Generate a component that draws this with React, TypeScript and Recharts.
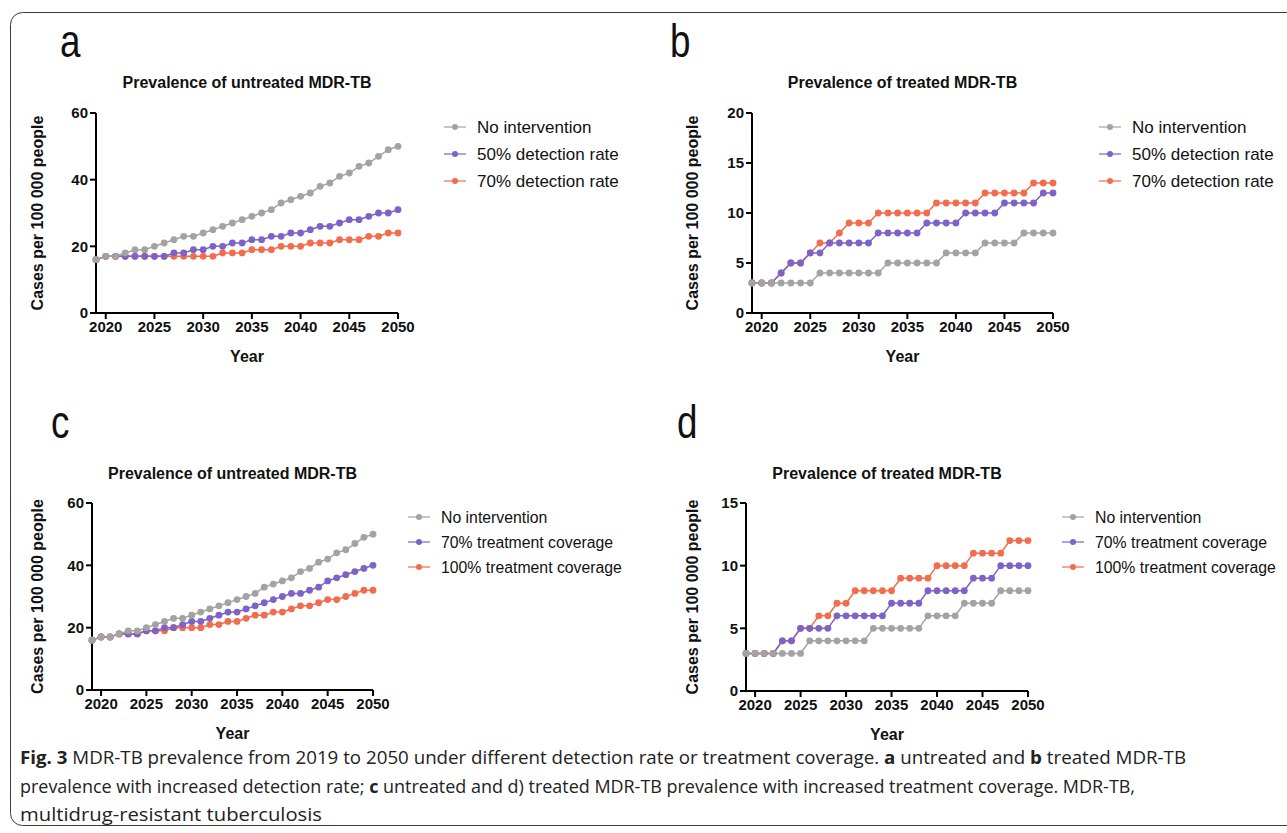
import { Line, LineChart, XAxis, YAxis } from "recharts";

// years 2019..2050
const YEARS = [
  2019, 2020, 2021, 2022, 2023, 2024, 2025, 2026, 2027, 2028, 2029, 2030, 2031,
  2032, 2033, 2034, 2035, 2036, 2037, 2038, 2039, 2040, 2041, 2042, 2043, 2044,
  2045, 2046, 2047, 2048, 2049, 2050,
];
const X_TICKS = [2020, 2025, 2030, 2035, 2040, 2045, 2050];

// a) untreated, detection rate
const A_NONE = [16, 17, 17, 18, 19, 19, 20, 21, 22, 23, 23, 24, 25, 26, 27, 28, 29, 30, 31, 33, 34, 35, 36, 38, 39, 41, 42, 44, 45, 47, 49, 50];
const A_DET50 = [16, 17, 17, 17, 17, 17, 17, 17, 18, 18, 19, 19, 20, 20, 21, 21, 22, 22, 23, 23, 24, 24, 25, 26, 26, 27, 28, 28, 29, 30, 30, 31];
const A_DET70 = [16, 17, 17, 17, 17, 17, 17, 17, 17, 17, 17, 17, 17, 18, 18, 18, 19, 19, 19, 20, 20, 20, 21, 21, 21, 22, 22, 22, 23, 23, 24, 24];

// b) treated, detection rate
const B_NONE = [3, 3, 3, 3, 3, 3, 3, 4, 4, 4, 4, 4, 4, 4, 5, 5, 5, 5, 5, 5, 6, 6, 6, 6, 7, 7, 7, 7, 8, 8, 8, 8];
const B_DET50 = [3, 3, 3, 4, 5, 5, 6, 6, 7, 7, 7, 7, 7, 8, 8, 8, 8, 8, 9, 9, 9, 9, 10, 10, 10, 10, 11, 11, 11, 11, 12, 12];
const B_DET70 = [3, 3, 3, 4, 5, 5, 6, 7, 7, 8, 9, 9, 9, 10, 10, 10, 10, 10, 10, 11, 11, 11, 11, 11, 12, 12, 12, 12, 12, 13, 13, 13];

// c) untreated, treatment coverage
const C_NONE = [16, 17, 17, 18, 19, 19, 20, 21, 22, 23, 23, 24, 25, 26, 27, 28, 29, 30, 31, 33, 34, 35, 36, 38, 39, 41, 42, 44, 45, 47, 49, 50];
const C_TR70 = [16, 17, 17, 18, 18, 18, 19, 19, 20, 20, 21, 22, 22, 23, 24, 25, 25, 26, 27, 28, 29, 30, 31, 31, 32, 33, 35, 36, 37, 38, 39, 40];
const C_TR100 = [16, 17, 17, 18, 18, 18, 19, 19, 19, 20, 20, 20, 20, 21, 21, 22, 22, 23, 24, 24, 25, 25, 26, 27, 27, 28, 29, 29, 30, 31, 32, 32];

// d) treated, treatment coverage
const D_NONE = [3, 3, 3, 3, 3, 3, 3, 4, 4, 4, 4, 4, 4, 4, 5, 5, 5, 5, 5, 5, 6, 6, 6, 6, 7, 7, 7, 7, 8, 8, 8, 8];
const D_TR70 = [3, 3, 3, 3, 4, 4, 5, 5, 5, 5, 6, 6, 6, 6, 6, 6, 7, 7, 7, 7, 8, 8, 8, 8, 8, 9, 9, 9, 10, 10, 10, 10];
const D_TR100 = [3, 3, 3, 3, 4, 4, 5, 5, 6, 6, 7, 7, 8, 8, 8, 8, 8, 9, 9, 9, 9, 10, 10, 10, 10, 11, 11, 11, 11, 12, 12, 12];

const Y_TICKS_60 = [0, 20, 40, 60];
const Y_TICKS_20 = [0, 5, 10, 15, 20];
const Y_TICKS_15 = [0, 5, 10, 15];

const GRAY = "#a3a3a3";
const PURPLE = "#7d62c8";
const ORANGE = "#f36c4e";
const FONT = "'Liberation Sans', Arial, sans-serif";

const Y_W = 90;
const M_TOP = 12;
const M_RIGHT = 20;
const X_H = 60;

type Series = { name: string; color: string; values: number[] };
type PanelSpec = {
  letter: string;
  letterX: number;
  letterY: number;
  title: string;
  titleY: number;
  plotLeft: number;
  plotTop: number;
  plotW: number;
  plotH: number;
  yMax: number;
  yTicks: number[];
  labelX: number;
  legendX: number;
  legendY: number;
  legendGap: number;
  legendFont: number;
  series: Series[];
};

const PANELS: PanelSpec[] = [
  {
    letter: "a", letterX: 60, letterY: 57,
    title: "Prevalence of untreated MDR-TB", titleY: 88,
    plotLeft: 96, plotTop: 113, plotW: 302, plotH: 200,
    yMax: 60, yTicks: Y_TICKS_60, labelX: 37,
    legendX: 444, legendY: 127, legendGap: 27, legendFont: 17,
    series: [
      { name: "No intervention", color: GRAY, values: A_NONE },
      { name: "50% detection rate", color: PURPLE, values: A_DET50 },
      { name: "70% detection rate", color: ORANGE, values: A_DET70 },
    ],
  },
  {
    letter: "b", letterX: 670, letterY: 57,
    title: "Prevalence of treated MDR-TB", titleY: 88,
    plotLeft: 752, plotTop: 113, plotW: 301, plotH: 200,
    yMax: 20, yTicks: Y_TICKS_20, labelX: 692,
    legendX: 1099, legendY: 127, legendGap: 27, legendFont: 17,
    series: [
      { name: "No intervention", color: GRAY, values: B_NONE },
      { name: "50% detection rate", color: PURPLE, values: B_DET50 },
      { name: "70% detection rate", color: ORANGE, values: B_DET70 },
    ],
  },
  {
    letter: "c", letterX: 51, letterY: 438,
    title: "Prevalence of untreated MDR-TB", titleY: 479,
    plotLeft: 92, plotTop: 503, plotW: 281, plotH: 187,
    yMax: 60, yTicks: Y_TICKS_60, labelX: 37,
    legendX: 408, legendY: 517, legendGap: 25, legendFont: 15.8,
    series: [
      { name: "No intervention", color: GRAY, values: C_NONE },
      { name: "70% treatment coverage", color: PURPLE, values: C_TR70 },
      { name: "100% treatment coverage", color: ORANGE, values: C_TR100 },
    ],
  },
  {
    letter: "d", letterX: 677, letterY: 438,
    title: "Prevalence of treated MDR-TB", titleY: 479,
    plotLeft: 746, plotTop: 503, plotW: 282, plotH: 188,
    yMax: 15, yTicks: Y_TICKS_15, labelX: 692,
    legendX: 1062, legendY: 517, legendGap: 25, legendFont: 15.8,
    series: [
      { name: "No intervention", color: GRAY, values: D_NONE },
      { name: "70% treatment coverage", color: PURPLE, values: D_TR70 },
      { name: "100% treatment coverage", color: ORANGE, values: D_TR100 },
    ],
  },
];

const tickStyle = { fill: "#111", fontSize: 15, fontWeight: 700 };
const axisStroke = { stroke: "#000", strokeWidth: 2 };

function Panel({ p }: { p: PanelSpec }) {
  const left = p.plotLeft - Y_W;
  const top = p.plotTop - M_TOP;
  const width = Y_W + p.plotW + M_RIGHT;
  const height = M_TOP + p.plotH + X_H;
  const data = YEARS.map((year, i) => {
    const row: Record<string, number> = { year };
    p.series.forEach((s, k) => (row["s" + k] = s.values[i]));
    return row;
  });
  // gray on top, orange at the bottom
  const order = p.series.map((s, k) => ({ ...s, k })).reverse();

  return (
    <div style={{ position: "absolute", left, top, width, height }}>
      <LineChart
        width={width}
        height={height}
        data={data}
        margin={{ top: M_TOP, right: M_RIGHT, bottom: 0, left: 0 }}
      >
        <XAxis
          dataKey="year"
          type="number"
          domain={[2019, 2050]}
          ticks={X_TICKS}
          interval={0}
          height={X_H}
          axisLine={axisStroke}
          tickLine={axisStroke}
          tickSize={6}
          tick={tickStyle}
          label={{
            value: "Year",
            position: "insideBottom",
            offset: 11,
            style: { fill: "#111", fontSize: 16, fontWeight: 700 },
          }}
        />
        <YAxis
          type="number"
          domain={[0, p.yMax]}
          ticks={p.yTicks}
          interval={0}
          width={Y_W}
          axisLine={axisStroke}
          tickLine={axisStroke}
          tickSize={6}
          tick={tickStyle}
          label={{
            value: "Cases per 100 000 people",
            angle: -90,
            position: "insideLeft",
            offset: p.labelX - left,
            style: { fill: "#111", fontSize: 16, fontWeight: 700, textAnchor: "middle" },
          }}
        />
        {order.map((s) => (
          <Line
            key={s.k}
            type="linear"
            dataKey={"s" + s.k}
            name={s.name}
            stroke={s.color}
            strokeWidth={1.5}
            dot={{ r: 3.4, fill: s.color, stroke: s.color, strokeWidth: 0 }}
            activeDot={false}
            isAnimationActive={false}
          />
        ))}
      </LineChart>
    </div>
  );
}

function Legend({ p }: { p: PanelSpec }) {
  return (
    <g>
      {p.series.map((s, i) => {
        const y = p.legendY + i * p.legendGap;
        return (
          <g key={s.name}>
            <line x1={p.legendX} x2={p.legendX + 22} y1={y} y2={y} stroke={s.color} strokeWidth={1.5} opacity={0.8} />
            <circle cx={p.legendX + 11} cy={y} r={3} fill={s.color} />
            <text x={p.legendX + 33} y={y + p.legendFont * 0.35} fontSize={p.legendFont} fill="#111">
              {s.name}
            </text>
          </g>
        );
      })}
    </g>
  );
}

export default function App() {
  return (
    <div
      style={{
        position: "absolute",
        left: 0,
        top: 0,
        width: 1287,
        height: 833,
        background: "#fff",
        overflow: "hidden",
        fontFamily: FONT,
      }}
    >
      {PANELS.map((p) => (
        <Panel key={p.letter} p={p} />
      ))}
      <svg
        width={1287}
        height={833}
        style={{ position: "absolute", left: 0, top: 0, pointerEvents: "none", fontFamily: FONT }}
      >
        <rect x={10.5} y={12.5} width={1320} height={813} rx={12} fill="none" stroke="#3c3c3c" strokeWidth={1} />
        {PANELS.map((p) => (
          <g key={p.letter}>
            <text
              transform={`translate(${p.letterX} ${p.letterY}) scale(0.8 1)`}
              fontSize={46}
              fill="#111"
            >
              {p.letter}
            </text>
            <text
              x={p.plotLeft + p.plotW / 2}
              y={p.titleY}
              fontSize={16}
              fontWeight={700}
              fill="#111"
              textAnchor="middle"
            >
              {p.title}
            </text>
            <Legend p={p} />
          </g>
        ))}
        <g fontFamily="'Open Sans', sans-serif" fontSize={18} fill="#222">
          <text x={20} y={764} textLength={1166} lengthAdjust="spacingAndGlyphs">
            <tspan fontWeight={700}>Fig. 3</tspan> MDR-TB prevalence from 2019 to 2050 under different detection rate or treatment coverage.{" "}
            <tspan fontWeight={700}>a</tspan> untreated and <tspan fontWeight={700}>b</tspan> treated MDR-TB
          </text>
          <text x={20} y={793} textLength={1115} lengthAdjust="spacingAndGlyphs">
            prevalence with increased detection rate; <tspan fontWeight={700}>c</tspan> untreated and d) treated MDR-TB prevalence with increased treatment coverage. MDR-TB,
          </text>
          <text x={20} y={821} textLength={302} lengthAdjust="spacingAndGlyphs">
            multidrug-resistant tuberculosis
          </text>
        </g>
      </svg>
    </div>
  );
}
